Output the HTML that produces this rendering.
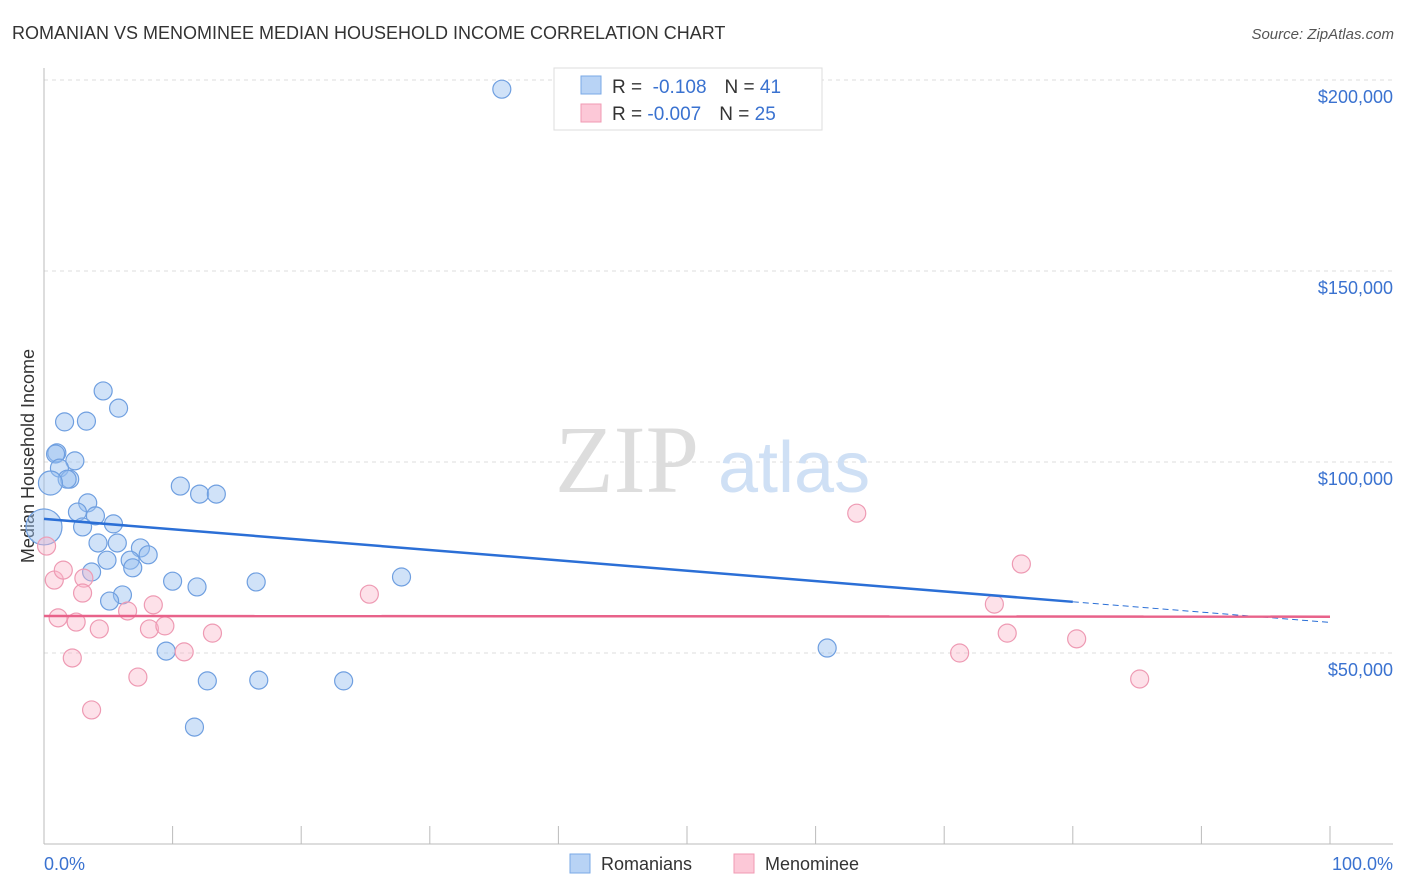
<!DOCTYPE html>
<html><head><meta charset="utf-8"><style>
body{margin:0;background:#fff;font-family:"Liberation Sans",sans-serif;}
</style></head><body>
<svg id="c" width="1406" height="892" style="display:block">
<text x="12" y="39" font-size="18" fill="#333">ROMANIAN VS MENOMINEE MEDIAN HOUSEHOLD INCOME CORRELATION CHART</text>
<text x="1394" y="39" font-size="15" fill="#555" font-style="italic" text-anchor="end">Source: ZipAtlas.com</text>
<text x="0" y="0" transform="translate(34,456) rotate(-90)" font-size="18" fill="#333" text-anchor="middle">Median Household Income</text>
<g id="grid"></g><g id="ticks"></g>
<text x="555" y="492" font-size="96" fill="#ddd" font-family="Liberation Serif">ZIP</text>
<text x="718" y="492" font-size="72" fill="#cfe0f5">atlas</text>
<g id="pts"></g><g id="lines"></g>
<g>
<rect x="554" y="68" width="268" height="62" fill="#fff" stroke="#ddd"/>
<rect x="581" y="76" width="20" height="18" fill="#b8d3f5" stroke="#7aa8e6"/>
<rect x="581" y="104" width="20" height="18" fill="#fcc8d7" stroke="#f09ab3"/>
<text x="612" y="93" font-size="19" fill="#333">R = <tspan fill="#3a72d0">&#160;-0.108</tspan><tspan dx="18">N = </tspan><tspan fill="#3a72d0"> 41</tspan></text>
<text x="612" y="120" font-size="19" fill="#333">R = <tspan fill="#3a72d0">-0.007</tspan><tspan dx="18">N = </tspan><tspan fill="#3a72d0">25</tspan></text>
</g>
<g>
<rect x="570" y="854" width="20" height="19" fill="#b8d3f5" stroke="#7aa8e6"/>
<text x="601" y="870" font-size="18" fill="#333">Romanians</text>
<rect x="734" y="854" width="20" height="19" fill="#fcc8d7" stroke="#f09ab3"/>
<text x="765" y="870" font-size="18" fill="#333">Menominee</text>
</g>
<text x="44" y="870" font-size="18" fill="#3a72d0">0.0%</text>
<text x="1393" y="870" font-size="18" fill="#3a72d0" text-anchor="end">100.0%</text>
</svg>
<script>
const yTicks=[50000,100000,150000,200000];
const yTickLabels=["$50,000","$100,000","$150,000","$200,000"];
const xTicks=[0,10,20,30,40,50,60,70,80,90,100];
const romX=[35.6,4.6,5.8,1.6,3.3,1.0,0.9,2.4,1.2,2.0,1.8,0.5,0,3.4,2.6,4.0,5.4,3.0,10.6,12.1,13.4,4.2,5.7,7.5,8.1,6.7,4.9,6.9,3.7,6.1,5.1,10.0,11.9,16.5,27.8,9.5,12.7,16.7,23.3,11.7,60.9];
const romY=[197600,118600,114100,110500,110700,102400,102100,100300,98400,95500,95500,94500,83000,89300,86900,85900,83800,83000,93700,91600,91600,78800,78800,77500,75700,74300,74300,72300,71200,65200,63600,68800,67300,68600,69900,50500,42700,42900,42700,30600,51300];
const menX=[0.2,0.8,1.5,3.1,3.0,1.1,2.5,4.3,6.5,8.5,8.2,9.4,13.1,10.9,2.2,7.3,3.7,25.3,63.2,76.0,73.9,74.9,71.2,80.3,85.2];
const menY=[78000,69100,71700,69600,65700,59200,58100,56300,61000,62600,56300,57100,55200,50300,48700,43700,35100,65400,86600,73300,62800,55200,50000,53700,43200];
const romTrend=[[0,85100],[80,63400],[100,58000]];
const menTrend=[[0,59700],[100,59500]];
const X=v=>44+v*12.86, Y=v=>844-v/50000*191;
const NS="http://www.w3.org/2000/svg";
function mk(t,a,p){const e=document.createElementNS(NS,t);for(const k in a)e.setAttribute(k,a[k]);p.appendChild(e);return e;}
const grid=document.getElementById('grid'),ticks=document.getElementById('ticks');
yTicks.forEach((v,i)=>{
 const l=mk('line',{x1:44,x2:1393,y1:Y(v),y2:Y(v),stroke:'#ddd','stroke-dasharray':'4 4'},grid);
 
 
 const t=mk('text',{x:1393,y:Y(v)+23,'font-size':18,fill:'#3a72d0','text-anchor':'end'},ticks);
 t.textContent=yTickLabels[i];
 
 
});
const ax=mk('line',{x1:44,x2:1393,y1:844,y2:844,stroke:'#bbb'},ticks);


const ay=mk('line',{x1:44,x2:44,y1:68,y2:844,stroke:'#bbb'},ticks);


xTicks.forEach(v=>{const l=mk('line',{x1:X(v),x2:X(v),y1:826,y2:844,stroke:'#bbb'},ticks);
 
 });
const pts=document.getElementById('pts');
romX.forEach((x,i)=>{const r=i==12?18:(i==11?12:9);
 const c=mk('circle',{cx:X(x),cy:Y(romY[i]),r:r,fill:'rgba(150,190,240,0.45)',stroke:'#6f9fe0','stroke-width':1.2},pts);
 
 });
menX.forEach((x,i)=>{
 const c=mk('circle',{cx:X(x),cy:Y(menY[i]),r:9,fill:'rgba(250,180,200,0.4)',stroke:'#ee9ab3','stroke-width':1.2},pts);
 
 });
const lg=document.getElementById('lines');
const b1=mk('line',{x1:X(romTrend[0][0]),y1:Y(romTrend[0][1]),x2:X(romTrend[1][0]),y2:Y(romTrend[1][1]),stroke:'#2b6fd6','stroke-width':2.5},lg);


const b2=mk('line',{x1:X(romTrend[1][0]),y1:Y(romTrend[1][1]),x2:X(romTrend[2][0]),y2:Y(romTrend[2][1]),stroke:'#2b6fd6','stroke-width':1,'stroke-dasharray':'6 4'},lg);


const p1=mk('line',{x1:X(menTrend[0][0]),y1:Y(menTrend[0][1]),x2:X(menTrend[1][0]),y2:Y(menTrend[1][1]),stroke:'#e8628a','stroke-width':2.5},lg);


</script>
</body></html>
